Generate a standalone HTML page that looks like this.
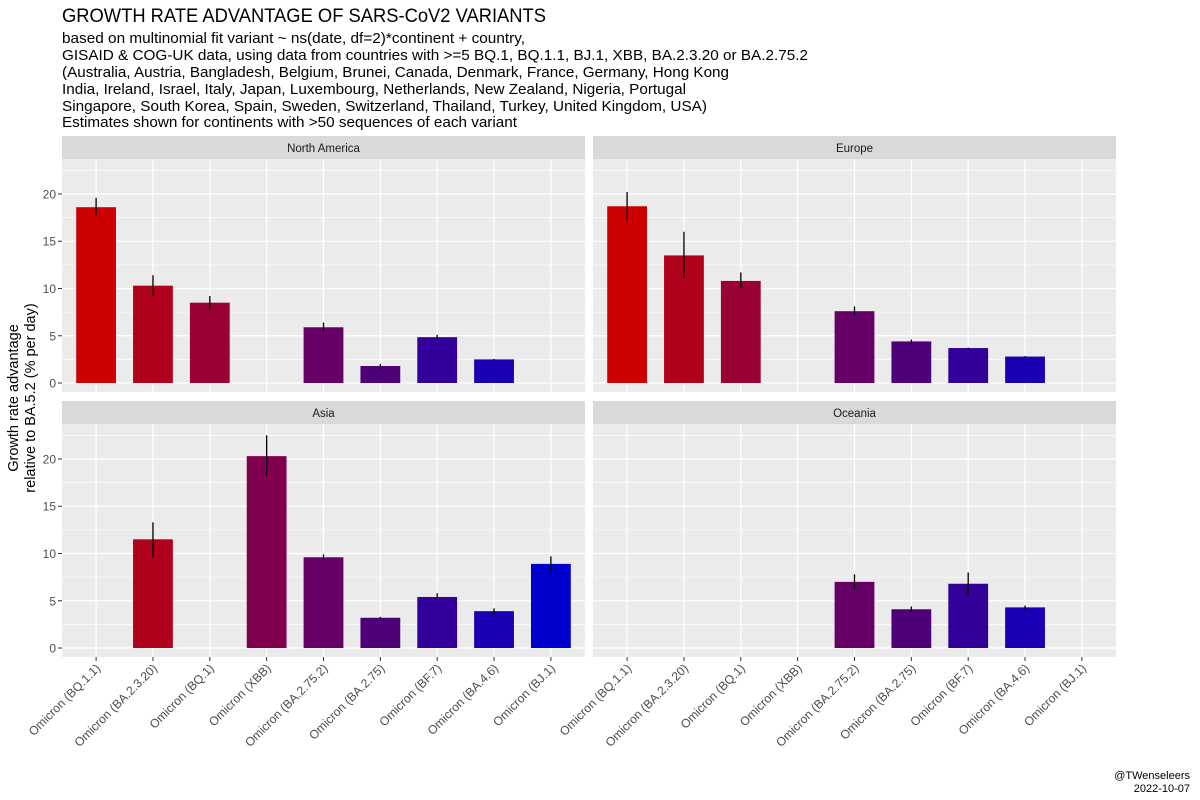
<!DOCTYPE html>
<html><head><meta charset="utf-8"><style>
body{margin:0;background:#fff;}
svg{display:block;font-family:"Liberation Sans",Arial,sans-serif;}
</style></head><body>
<svg id="chart" width="1200" height="800" viewBox="0 0 1200 800" xmlns="http://www.w3.org/2000/svg">
<text x="62" y="22" font-size="19.5" textLength="484" lengthAdjust="spacingAndGlyphs">GROWTH RATE ADVANTAGE OF SARS-CoV2 VARIANTS</text>
<g font-size="14.5">
<text x="62" y="43" textLength="463" lengthAdjust="spacingAndGlyphs">based on multinomial fit variant ~ ns(date, df=2)*continent + country,</text>
<text x="62" y="60" textLength="746" lengthAdjust="spacingAndGlyphs">GISAID &amp; COG-UK data, using data from countries with &gt;=5 BQ.1, BQ.1.1, BJ.1, XBB, BA.2.3.20 or BA.2.75.2</text>
<text x="62" y="77" textLength="667" lengthAdjust="spacingAndGlyphs">(Australia, Austria, Bangladesh, Belgium, Brunei, Canada, Denmark, France, Germany, Hong Kong</text>
<text x="62" y="94" textLength="624" lengthAdjust="spacingAndGlyphs">India, Ireland, Israel, Italy, Japan, Luxembourg, Netherlands, New Zealand, Nigeria, Portugal</text>
<text x="62" y="111" textLength="645" lengthAdjust="spacingAndGlyphs">Singapore, South Korea, Spain, Sweden, Switzerland, Thailand, Turkey, United Kingdom, USA)</text>
<text x="62" y="127" textLength="455" lengthAdjust="spacingAndGlyphs">Estimates shown for continents with &gt;50 sequences of each variant</text>
</g>
<g font-size="14.5" text-anchor="middle">
<text transform="translate(18,398) rotate(-90)">Growth rate advantage</text>
<text transform="translate(35,398) rotate(-90)">relative to BA.5.2 (% per day)</text>
</g>
<g id="panels"></g>
<g font-size="11" text-anchor="end">
<text x="1190" y="779">@TWenseleers</text>
<text x="1190" y="792">2022-10-07</text>
</g>
</svg>
<script>
const categories = ["Omicron (BQ.1.1)","Omicron (BA.2.3.20)","Omicron (BQ.1)","Omicron (XBB)","Omicron (BA.2.75.2)","Omicron (BA.2.75)","Omicron (BF.7)","Omicron (BA.4.6)","Omicron (BJ.1)"];
const barColors = ["#cc0000","#b0001c","#990033","#80004f","#660066","#4d0077","#330099","#1a00b3","#0000cc"];
const panelNames = ["North America","Europe","Asia","Oceania"];
const yTicks = [0,5,10,15,20];
const naValues = [18.6,10.3,8.5,null,5.9,1.8,4.85,2.5,null];
const naLower = [17.7,9.2,7.8,null,5.4,1.5,4.6,2.45,null];
const naUpper = [19.6,11.4,9.2,null,6.4,2.0,5.1,2.55,null];
const euValues = [18.7,13.5,10.8,null,7.6,4.4,3.7,2.8,null];
const euLower = [17.2,11.1,10.0,null,7.1,4.2,3.65,2.75,null];
const euUpper = [20.2,16.0,11.7,null,8.1,4.6,3.75,2.85,null];
const asValues = [null,11.5,null,20.3,9.6,3.2,5.4,3.9,8.9];
const asLower = [null,9.6,null,18.2,9.3,3.1,5.0,3.5,8.0];
const asUpper = [null,13.3,null,22.5,9.9,3.3,5.8,4.2,9.7];
const ocValues = [null,null,null,null,7.0,4.1,6.8,4.3,null];
const ocLower = [null,null,null,null,6.2,3.8,5.6,4.1,null];
const ocUpper = [null,null,null,null,7.8,4.4,8.0,4.5,null];
const series=[[naValues,naLower,naUpper],[euValues,euLower,euUpper],[asValues,asLower,asUpper],[ocValues,ocLower,ocUpper]];
const NS="http://www.w3.org/2000/svg";
const root=document.getElementById('panels');
function mk(tag,attrs,parent){const e=document.createElementNS(NS,tag);for(const k in attrs)e.setAttribute(k,attrs[k]);parent.appendChild(e);return e;}
const yMin=-0.95,yMax=23.7;
const pxLeft=[62,593],pw=523,stripTop=[136,401],sh=23,ph=233;
series.forEach((s,pi)=>{
  const col=pi%2,row=Math.floor(pi/2);
  const x0=pxLeft[col],st=stripTop[row],py=st+sh;
  const g=mk('g',{},root);
  
  
  const n=categories.length,step=pw/(n-1+1.2);
  const xs=i=>x0+step*(0.6+i);
  const ys=v=>py+ph-(v-yMin)/(yMax-yMin)*ph;
  const strip=mk('rect',{x:x0,y:st,width:pw,height:sh,fill:'#d9d9d9'},g);
  
  
  const st2=mk('text',{x:x0+pw/2,y:st+16,'font-size':11.5,'text-anchor':'middle',fill:'#1a1a1a'},g);
  st2.textContent=panelNames[pi];
  
  
  mk('rect',{x:x0,y:py,width:pw,height:ph,fill:'#ebebeb'},g);
  for(let t=0;t<yTicks.length;t++){
    const v=yTicks[t];
    mk('line',{x1:x0,x2:x0+pw,y1:ys(v+2.5),y2:ys(v+2.5),stroke:'#fff','stroke-width':0.6},g);
    mk('line',{x1:x0,x2:x0+pw,y1:ys(v),y2:ys(v),stroke:'#fff','stroke-width':1.2},g);
  }
  for(let i=0;i<n;i++) mk('line',{x1:xs(i),x2:xs(i),y1:py,y2:py+ph,stroke:'#fff','stroke-width':1.2},g);
  if(col===0){
    yTicks.forEach(v=>{
      mk('line',{x1:x0-4,x2:x0,y1:ys(v),y2:ys(v),stroke:'#333','stroke-width':1},g);
      const tl=mk('text',{x:x0-6,y:ys(v)+4.5,'font-size':12,'text-anchor':'end',fill:'#4d4d4d'},g);
      tl.textContent=v;
      
      
    });
  }
  const [vals,lo,hi]=s;
  const bw=step*0.7;
  for(let i=0;i<n;i++){
    if(vals[i]==null)continue;
    const b=mk('rect',{x:xs(i)-bw/2,y:ys(vals[i]),width:bw,height:ys(0)-ys(vals[i]),fill:barColors[i]},g);
    
    
    const e=mk('line',{x1:xs(i),x2:xs(i),y1:ys(lo[i]),y2:ys(hi[i]),stroke:'#000','stroke-width':1.3},g);
    
    
  }
  if(row===1){
    for(let i=0;i<n;i++){
      mk('line',{x1:xs(i),x2:xs(i),y1:py+ph,y2:py+ph+4,stroke:'#333','stroke-width':1},g);
      const tx=xs(i)+5,ty=py+ph+12;
      const tl=mk('text',{x:tx,y:ty,'font-size':12.2,'text-anchor':'end',fill:'#4d4d4d',transform:`rotate(-45 ${tx} ${ty})`},g);
      tl.textContent=categories[i];
      
      
    }
  }
});
</script>
</body></html>
